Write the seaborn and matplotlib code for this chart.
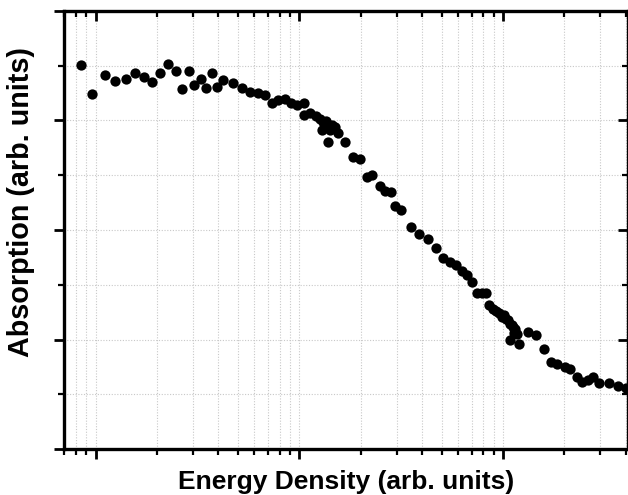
import numpy as np
import pandas as pd
import matplotlib
matplotlib.use("Agg")
import matplotlib.pyplot as plt
import matplotlib.ticker as mticker
import seaborn as sns

energy = [0.853, 0.956, 1.107, 1.240, 1.404, 1.554, 1.721, 1.884, 2.063, 2.259,
          2.473, 2.647, 2.864, 3.030, 3.281, 3.471, 3.715, 3.932, 4.208, 4.713,
          5.218, 5.712, 6.254, 6.768, 7.327, 7.842, 8.487, 9.083, 9.721, 10.52,
          10.52, 11.26, 12.05, 12.61, 13.05, 13.50, 13.80, 12.90, 14.12, 14.50,
          14.94, 15.46, 13.80, 16.74, 18.32, 19.83, 21.46, 22.72, 24.86, 26.31,
          28.16, 29.47, 31.54, 35.32, 38.66, 42.81, 46.86, 50.72, 54.90, 58.75,
          62.88, 66.55, 70.42, 74.51, 78.85, 82.50, 85.34, 89.30, 92.4, 95.57,
          98.9, 101.1, 103.4, 105.8, 108.2, 110.7, 112.0, 113.3, 114.6, 117.2,
          108.2, 119.8, 132.7, 145.3, 159.1, 172.2, 184.2, 201.7, 213.4, 231.0,
          244.5, 261.6, 276.9, 296.3, 331.8, 367.4, 402.1]
absorption = [3.507, 3.242, 3.416, 3.361, 3.379, 3.434, 3.397, 3.352, 3.438, 3.516,
              3.452, 3.288, 3.452, 3.324, 3.379, 3.297, 3.434, 3.306, 3.370, 3.342,
              3.297, 3.260, 3.251, 3.233, 3.160, 3.187, 3.196, 3.160, 3.142, 3.160,
              3.050, 3.068, 3.041, 3.014, 2.986, 2.995, 2.959, 2.913, 2.913, 2.960,
              2.941, 2.886, 2.804, 2.804, 2.667, 2.648, 2.484, 2.502, 2.402, 2.356,
              2.347, 2.219, 2.183, 2.027, 1.963, 1.918, 1.836, 1.744, 1.708, 1.680,
              1.626, 1.589, 1.525, 1.425, 1.425, 1.425, 1.315, 1.279, 1.260, 1.242,
              1.205, 1.224, 1.187, 1.178, 1.142, 1.132, 1.114, 1.059, 1.096, 1.050,
              0.995, 0.959, 1.068, 1.041, 0.913, 0.795, 0.776, 0.749, 0.731, 0.658,
              0.612, 0.630, 0.658, 0.603, 0.603, 0.575, 0.557]

x_label = "Energy Density (arb. units)"
y_label = "Absorption (arb. units)"

df = pd.DataFrame({"energy": energy, "absorption": absorption})

sns.set_style("white")
plt.rcParams["font.family"] = ["Liberation Sans", "DejaVu Sans"]
plt.rcParams["text.color"] = "black"
plt.rcParams["axes.labelcolor"] = "black"
plt.rcParams["xtick.color"] = "black"
plt.rcParams["ytick.color"] = "black"

fig = plt.figure(figsize=(6.28, 4.95), dpi=100)
ax = fig.add_axes([64 / 628, 1 - 449 / 495, 564 / 628, 438 / 495])

sns.scatterplot(data=df, x="energy", y="absorption", ax=ax, color="black",
                s=55, linewidth=0, zorder=3, legend=False)

xlim = (0.7, 410)
ylim = (0, 4)


def set_locators(a):
    a.set_xscale("log")
    a.set_xlim(*xlim)
    a.set_ylim(*ylim)
    a.xaxis.set_major_locator(mticker.LogLocator(base=10, numticks=10))
    a.xaxis.set_minor_locator(mticker.LogLocator(base=10, subs=np.arange(2, 10), numticks=20))
    a.yaxis.set_major_locator(mticker.MultipleLocator(1))
    a.yaxis.set_minor_locator(mticker.MultipleLocator(0.5))
    a.xaxis.set_major_formatter(mticker.NullFormatter())
    a.xaxis.set_minor_formatter(mticker.NullFormatter())
    a.yaxis.set_major_formatter(mticker.NullFormatter())
    a.yaxis.set_minor_formatter(mticker.NullFormatter())


set_locators(ax)

ax.grid(True, which="both", linestyle=(0, (1, 1.5)), color="#c8c8c8", linewidth=0.8, zorder=0)
ax.set_axisbelow(True)

for side in ["left", "bottom", "top", "right"]:
    ax.spines[side].set_visible(True)
    ax.spines[side].set_linewidth(2.4)
    ax.spines[side].set_color("black")

ax.tick_params(axis="both", which="major", length=7, width=2, color="black",
               bottom=True, left=True, top=False, right=False, direction="out")
ax.tick_params(axis="both", which="minor", length=4, width=1.6, color="black",
               bottom=True, left=True, top=False, right=False, direction="out")

# mirrored inward ticks on top and right via an overlay axes
ax2 = fig.add_axes(ax.get_position(), facecolor="none")
set_locators(ax2)
ax2.grid(False)
for side in ["left", "bottom", "top", "right"]:
    ax2.spines[side].set_visible(False)
ax2.tick_params(axis="both", which="major", length=7, width=2, color="black",
                bottom=False, left=False, top=True, right=True, direction="in",
                labelbottom=False, labelleft=False)
ax2.tick_params(axis="both", which="minor", length=4, width=1.6, color="black",
                bottom=False, left=False, top=True, right=True, direction="in",
                labelbottom=False, labelleft=False)

ax.set_xlabel(x_label, fontsize=19, fontweight="bold", color="black")
ax.set_ylabel(y_label, fontsize=20.7, fontweight="bold", color="black")
ax.xaxis.set_label_coords(0.5, -0.048)
ax.yaxis.set_label_coords(-0.052, 0.564)

fig.savefig("out.png", dpi=100)
